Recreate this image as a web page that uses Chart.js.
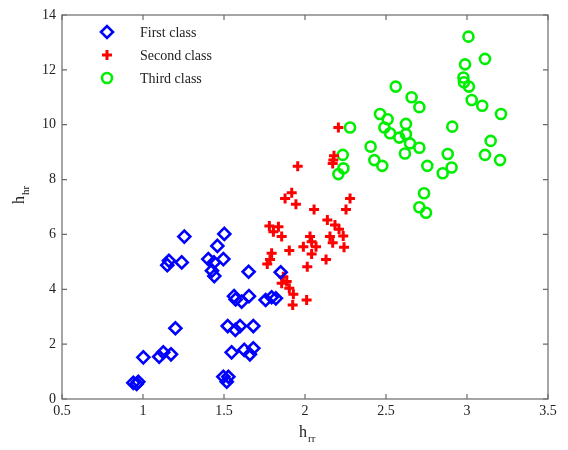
<!DOCTYPE html>
<html>
<head>
<meta charset="utf-8">
<script src="https://cdn.jsdelivr.net/npm/chart.js@4.4.1/dist/chart.umd.min.js"></script>
<style>
  html, body { margin: 0; padding: 0; background: #fff; }
  #myChart { display: block; }
</style>
</head>
<body>
<canvas id="myChart" width="568" height="450"></canvas>
<script>
const seriesNames = ["First class", "Second class", "Third class"];

const firstX = [1.255, 1.502, 1.459, 1.16, 1.15, 1.239, 1.403, 1.438, 1.496, 1.426, 1.44, 1.652, 1.85,
  1.562, 1.572, 1.609, 1.654, 1.757, 1.794, 1.82, 1.2, 1.523, 1.57, 1.599, 1.681,
  1.002, 1.1, 1.125, 1.173, 1.547, 1.625, 1.66, 1.681, 0.94, 0.961, 0.971, 1.496, 1.527, 1.517];
const firstY = [5.92, 6.02, 5.58, 5.04, 4.88, 4.98, 5.1, 4.98, 5.1, 4.68, 4.48, 4.64, 4.62,
  3.75, 3.63, 3.55, 3.75, 3.61, 3.71, 3.67, 2.58, 2.66, 2.52, 2.66, 2.66,
  1.52, 1.54, 1.7, 1.63, 1.7, 1.79, 1.63, 1.85, 0.59, 0.55, 0.63, 0.81, 0.81, 0.63];

const secondX = [2.206, 2.179, 2.175, 2.171, 1.955, 1.918, 1.877, 1.944, 2.278, 2.253, 2.056, 2.138,
  2.185, 2.21, 2.236, 1.78, 1.836, 1.805, 1.856, 2.031, 2.041, 2.154, 2.171, 1.99, 2.068, 2.041,
  1.903, 2.241, 2.13, 1.794, 1.784, 1.767, 2.014, 1.866, 1.887, 1.856, 1.903, 1.928, 2.01, 1.924];
const secondY = [9.9, 8.87, 8.71, 8.59, 8.49, 7.52, 7.31, 7.1, 7.31, 6.91, 6.91, 6.53,
  6.34, 6.19, 5.94, 6.31, 6.28, 6.1, 5.92, 5.92, 5.73, 5.92, 5.7, 5.55, 5.55, 5.29,
  5.41, 5.53, 5.09, 5.31, 5.09, 4.92, 4.82, 4.46, 4.28, 4.22, 4.04, 3.82, 3.61, 3.43];

const thirdX = [3.009, 3.111, 2.988, 2.978, 2.981, 3.012, 3.029, 3.094, 3.21, 2.56, 2.658, 2.706,
  2.463, 2.51, 2.278, 2.49, 2.623, 2.525, 2.582, 2.623, 2.648, 2.706, 2.617, 2.405, 2.428, 2.477,
  2.755, 2.909, 2.881, 2.905, 2.85, 3.146, 3.111, 3.204, 2.735, 2.706, 2.747, 2.233, 2.237, 2.206];
const thirdY = [13.21, 12.4, 12.2, 11.72, 11.55, 11.39, 10.9, 10.69, 10.39, 11.39, 11.0, 10.64,
  10.39, 10.2, 9.9, 9.9, 10.03, 9.69, 9.53, 9.65, 9.32, 9.16, 8.95, 9.2, 8.71, 8.5,
  8.5, 9.93, 8.93, 8.44, 8.23, 9.41, 8.9, 8.71, 7.5, 6.99, 6.79, 8.9, 8.41, 8.2];

const xTicks = [0.5, 1, 1.5, 2, 2.5, 3, 3.5];
const yTicks = [0, 2, 4, 6, 8, 10, 12, 14];

const toPoints = (xs, ys) => xs.map((x, i) => ({ x: x, y: ys[i] }));

const serif = "'Liberation Serif', 'Times New Roman', serif";
const axisColor = "#6a6a6a";

const styles = [
  { color: "#0000ff", pointStyle: "rectRot", radius: 6, borderWidth: 2.6 },
  { color: "#ff0000", pointStyle: "cross", radius: 5, borderWidth: 3 },
  { color: "#00ee00", pointStyle: "circle", radius: 5, borderWidth: 2.6 },
];

// box, inward ticks, axis titles with subscripts and the legend
const matlabLook = {
  id: "matlabLook",
  afterDraw(chart) {
    const ctx = chart.ctx;
    const a = chart.chartArea;
    const xs = chart.scales.x;
    const ys = chart.scales.y;
    ctx.save();
    ctx.strokeStyle = axisColor;
    ctx.lineWidth = 1.2;
    ctx.strokeRect(a.left, a.top, a.right - a.left, a.bottom - a.top);
    ctx.beginPath();
    xTicks.forEach((v) => {
      const px = xs.getPixelForValue(v);
      ctx.moveTo(px, a.bottom); ctx.lineTo(px, a.bottom - 5);
      ctx.moveTo(px, a.top); ctx.lineTo(px, a.top + 5);
    });
    yTicks.forEach((v) => {
      const py = ys.getPixelForValue(v);
      ctx.moveTo(a.left, py); ctx.lineTo(a.left + 5, py);
      ctx.moveTo(a.right, py); ctx.lineTo(a.right - 5, py);
    });
    ctx.stroke();

    // axis titles
    ctx.fillStyle = "#222";
    ctx.textBaseline = "alphabetic";
    ctx.textAlign = "left";
    ctx.font = "16px " + serif;
    ctx.fillText("h", 299, 437);
    ctx.font = "11px " + serif;
    ctx.fillText("rr", 308, 442);

    ctx.save();
    ctx.translate(24, 204);
    ctx.rotate(-Math.PI / 2);
    ctx.font = "16px " + serif;
    ctx.fillText("h", 0, 0);
    ctx.font = "11px " + serif;
    ctx.fillText("hr", 9, 5);
    ctx.restore();

    // legend (outline markers, like the plotted ones)
    ctx.font = "14px " + serif;
    ctx.textBaseline = "middle";
    seriesNames.forEach((name, i) => {
      const y = 32 + i * 23;
      const s = styles[i];
      ctx.strokeStyle = s.color;
      ctx.fillStyle = "rgba(0,0,0,0)";
      ctx.lineWidth = s.borderWidth;
      Chart.helpers.drawPoint(ctx, { pointStyle: s.pointStyle, radius: s.radius, borderWidth: s.borderWidth }, 107, y);
      ctx.fillStyle = "#222";
      ctx.fillText(name, 140, y + 1);
    });
    ctx.restore();
  },
};

const datasets = [firstX, secondX, thirdX].map((xs, i) => ({
  label: seriesNames[i],
  data: toPoints(xs, [firstY, secondY, thirdY][i]),
  pointStyle: styles[i].pointStyle,
  pointRadius: styles[i].radius,
  pointHoverRadius: styles[i].radius,
  pointBorderWidth: styles[i].borderWidth,
  borderColor: styles[i].color,
  backgroundColor: "rgba(0,0,0,0)",
}));

const myChart = new Chart(document.getElementById("myChart").getContext("2d"), {
  type: "scatter",
  data: { datasets: datasets },
  options: {
    responsive: false,
    animation: false,
    layout: { padding: { top: 15, right: 20, left: 0, bottom: 0 } },
    plugins: {
      legend: { display: false },
      tooltip: { enabled: false },
    },
    scales: {
      x: {
        type: "linear",
        min: 0.5,
        max: 3.5,
        afterBuildTicks: (scale) => { scale.ticks = xTicks.map((v) => ({ value: v })); },
        afterFit: (scale) => { scale.height = 51; },
        grid: { display: false, drawTicks: false },
        border: { display: false },
        ticks: { color: "#222", padding: 4, font: { family: serif, size: 14 }, callback: (v) => String(v) },
      },
      y: {
        type: "linear",
        min: 0,
        max: 14,
        afterBuildTicks: (scale) => { scale.ticks = yTicks.map((v) => ({ value: v })); },
        afterFit: (scale) => { scale.width = 62; },
        grid: { display: false, drawTicks: false },
        border: { display: false },
        ticks: { color: "#222", padding: 6, font: { family: serif, size: 14 }, callback: (v) => String(v) },
      },
    },
  },
  plugins: [matlabLook],
});
</script>
</body>
</html>
